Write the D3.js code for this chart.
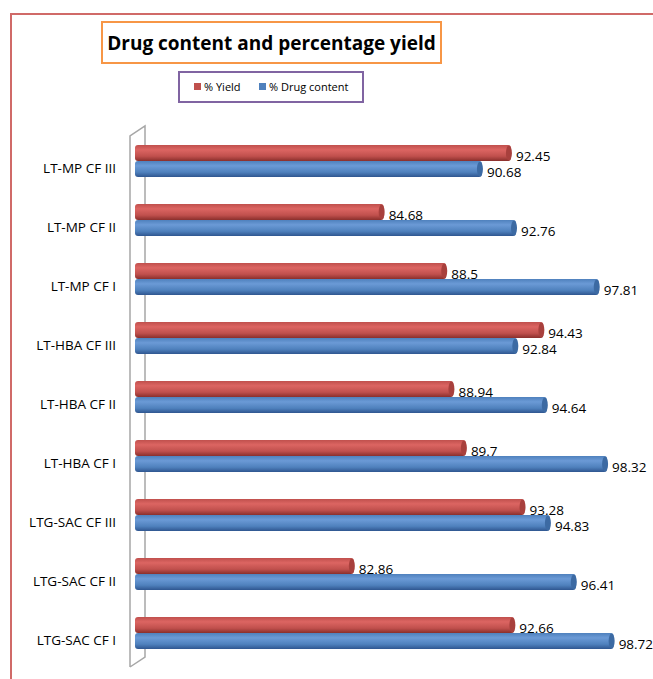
<!DOCTYPE html>
<html>
<head>
<meta charset="utf-8">
<script src="https://cdn.jsdelivr.net/npm/d3@7"></script>
<style>
  body { margin: 0; background: #fff; }
  text { font-family: "Open Sans", "Noto Sans", sans-serif; }
</style>
</head>
<body>
<svg class="chart"></svg>
<script>
// categories listed top to bottom as they appear
var categories = ["LT-MP CF III", "LT-MP CF II", "LT-MP CF I",
    "LT-HBA CF III", "LT-HBA CF II", "LT-HBA CF I",
    "LTG-SAC CF III", "LTG-SAC CF II", "LTG-SAC CF I"];
var yieldValues = [92.45, 84.68, 88.5, 94.43, 88.94, 89.7, 93.28, 82.86, 92.66];
var drugValues = [90.68, 92.76, 97.81, 92.84, 94.64, 98.32, 94.83, 96.41, 98.72];
var seriesNames = ["% Yield", "% Drug content"];

function show() {
    'use strict';

    var width = 653, height = 679;

    var svg = d3.select(".chart")
        .attr("width", width)
        .attr("height", height);

    // gradients to fake the cylinder look
    var defs = svg.append("defs");
    function cyl(id, c0, c1, c2) {
        var g = defs.append("linearGradient").attr("id", id)
            .attr("x1", 0).attr("y1", 0).attr("x2", 0).attr("y2", 1);
        g.append("stop").attr("offset", "0%").attr("stop-color", c1);
        g.append("stop").attr("offset", "30%").attr("stop-color", c0);
        g.append("stop").attr("offset", "70%").attr("stop-color", c1);
        g.append("stop").attr("offset", "100%").attr("stop-color", c2);
    }
    cyl("gRed", "#dc6562", "#c0504d", "#8a2f2c");
    cyl("gBlue", "#6b9ad6", "#4f81bd", "#2f5690");

    // outer frame
    svg.append("rect")
        .attr("x", 11).attr("y", 14)
        .attr("width", 700).attr("height", 700)
        .attr("fill", "none").attr("stroke", "#d06a68").attr("stroke-width", 2);

    // title
    svg.append("rect")
        .attr("x", 102).attr("y", 22).attr("width", 339).attr("height", 41)
        .attr("fill", "#fff").attr("stroke", "#f79646").attr("stroke-width", 2);
    svg.append("text")
        .attr("x", 271.5).attr("y", 50)
        .attr("text-anchor", "middle")
        .style("font-size", "19px").style("font-weight", "bold")
        .text("Drug content and percentage yield");

    // legend
    svg.append("rect")
        .attr("x", 179).attr("y", 72).attr("width", 184).attr("height", 30)
        .attr("fill", "#fff").attr("stroke", "#8064a2").attr("stroke-width", 2);
    var legendX = [194, 259], legendColor = ["#c0504d", "#4f81bd"];
    seriesNames.forEach(function(name, i) {
        svg.append("rect")
            .attr("x", legendX[i]).attr("y", 83).attr("width", 7).attr("height", 7)
            .attr("fill", legendColor[i]);
        svg.append("text")
            .attr("x", legendX[i] + 10).attr("y", 91)
            .style("font-size", "11px")
            .text(name);
    });

    // scales
    var x = d3.scaleLinear().domain([69.5, 100]).range([135, 634.6]);
    var y = d3.scaleBand().domain(categories).range([131.5, 662.5]);
    var barH = 16;

    // back wall (3D)
    svg.append("path")
        .attr("d", "M130,667 L130,136 L145,126 L145,657 L130,667")
        .attr("fill", "#fff").attr("stroke", "#a6a6a6").attr("stroke-width", 1.5);

    var rows = categories.map(function(c, i) {
        return {cat: c, values: [yieldValues[i], drugValues[i]]};
    });

    var grp = svg.selectAll(".row").data(rows).enter()
        .append("g").attr("class", "row")
        .attr("transform", function(d) {
            return "translate(0," + (y(d.cat) + y.bandwidth() / 2) + ")";
        });

    // category labels
    grp.append("text")
        .attr("x", 116).attr("y", 12)
        .attr("text-anchor", "end")
        .style("font-size", "13.5px")
        .text(function(d) { return d.cat; });

    [0, 1].forEach(function(s) {
        var fill = s === 0 ? "url(#gRed)" : "url(#gBlue)";
        var capColor = s === 0 ? "#a8403d" : "#3c6aa3";
        var top = s === 0 ? -barH : 0;

        grp.append("rect")
            .attr("x", x(69.5))
            .attr("y", top)
            .attr("width", function(d) { return x(d.values[s]) - x(69.5); })
            .attr("height", barH)
            .attr("rx", 3)
            .attr("fill", fill);

        grp.append("ellipse")
            .attr("cx", function(d) { return x(d.values[s]) - 2; })
            .attr("cy", top + barH / 2)
            .attr("rx", 3).attr("ry", barH / 2 - 0.5)
            .attr("fill", capColor);

        grp.append("text")
            .attr("x", function(d) { return x(d.values[s]) + 5; })
            .attr("y", top + barH / 2 + 8)
            .style("font-size", "13.5px")
            .text(function(d) { return d.values[s]; });
    });
}
show();
</script>
</body>
</html>
